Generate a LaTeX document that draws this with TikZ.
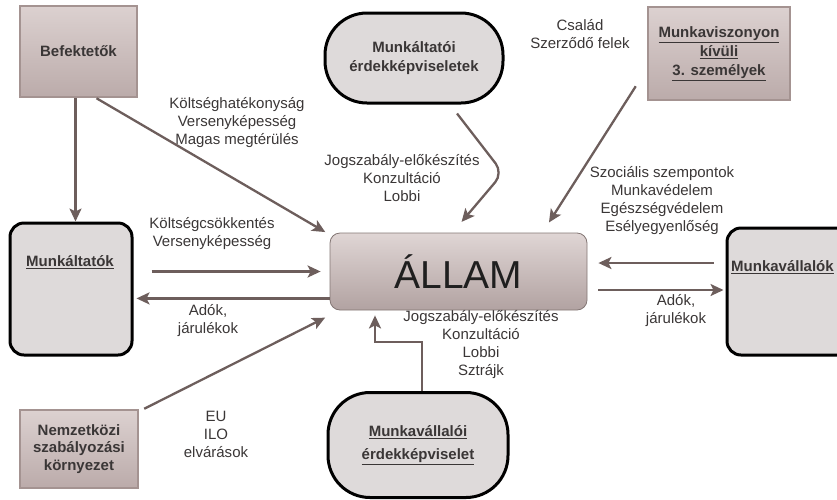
\documentclass[tikz,border=0pt]{standalone}
\usepackage{fontspec}
\setmainfont{Liberation Sans}
\usetikzlibrary{arrows.meta}

\definecolor{mauvebox}{HTML}{C9BBBA}
\definecolor{mauvetop}{HTML}{DCD1D0}
\definecolor{mauvebot}{HTML}{BBABAA}
\definecolor{mauveline}{HTML}{A49391}
\definecolor{greyfill}{HTML}{DEDADA}
\definecolor{arrowcol}{HTML}{6D5E5C}
\definecolor{txtcol}{HTML}{3A3636}

\begin{document}
\begin{tikzpicture}[
    x=1pt, y=-1pt,
    every node/.style={text=txtcol, font=\fontsize{15}{18}\selectfont},
    shadedbox/.style={rectangle, draw=mauveline, line width=2.5pt, top color=mauvetop, bottom color=mauvebot, align=center, font=\bfseries\fontsize{15}{19}\selectfont},
    roundbox/.style={rectangle, draw=black, line width=3pt, fill=greyfill, rounded corners=14pt},
    pillbox/.style={rectangle, draw=black, line width=3pt, fill=greyfill, rounded corners=42pt, align=center, font=\bfseries\fontsize{15}{19}\selectfont},
    statebox/.style={rectangle, draw=mauveline!80!black, line width=0.8pt, top color=mauvetop!90!white, bottom color=mauvebot!95!black, rounded corners=10pt, minimum width=257pt, minimum height=77pt, font=\fontsize{39}{40}\selectfont, text=black!88},
    lbl/.style={align=center, inner sep=0pt},
    arrow/.style={-{Stealth[length=13pt, width=12pt, inset=3pt]}, line width=2.3pt, draw=arrowcol}
]
\useasboundingbox (0,0) rectangle (837,499);
\clip (0,0) rectangle (837,499);

% outer actors
\node[shadedbox, minimum width=117pt, minimum height=91pt] (bef) at (78.5, 51.5) {Befektetők};
\node[pillbox, minimum width=178pt, minimum height=90pt] (mke) at (414, 58) {Munkáltatói\\érdekképviseletek};
\node[shadedbox, minimum width=142pt, minimum height=93pt] (mvk) at (719, 53.5) {\underline{Munkaviszonyon}\\\underline{kívüli}\\\underline{3. személyek}};
\node[shadedbox, minimum width=118pt, minimum height=78pt, font=\bfseries\fontsize{15}{17.5}\selectfont] (nsz) at (79, 449) {Nemzetközi\\szabályozási\\környezet};
\node[pillbox, minimum width=180pt, minimum height=105pt, font=\bfseries\fontsize{15}{23}\selectfont] (mve) at (418, 445) {\underline{Munkavállalói}\\\underline{érdekképviselet}};

% side boxes with text near the top
\node[roundbox, minimum width=122pt, minimum height=132pt] (mk) at (71, 289) {};
\node[font=\bfseries\fontsize{15}{18}\selectfont] (mktext) at (70, 262) {\underline{Munkáltatók}};
\node[roundbox, minimum width=124pt, minimum height=127pt] (mv) at (789, 291.5) {};
\node[anchor=west, inner sep=0pt, font=\bfseries\fontsize{15}{18}\selectfont] (mvtext) at (731, 267) {\underline{Munkavállalók}};

% the state
\node[statebox] (allam) at (458.5, 271.5) {ÁLLAM};

% labels
\node[lbl] (lbef) at (237, 123) {Költséghatékonyság\\Versenyképesség\\Magas megtérülés};
\node[lbl] (lmke) at (402, 178) {Jogszabály-előkészítés\\Konzultáció\\Lobbi};
\node[lbl] (lcsal) at (580, 34) {Család\\Szerződő felek};
\node[lbl] (lszoc) at (662, 201) {Szociális szempontok\\Munkavédelem\\Egészségvédelem\\Esélyegyenlőség};
\node[lbl] (lmk1) at (212, 234) {Költségcsökkentés\\Versenyképesség};
\node[lbl] (lmk2) at (208, 321) {Adók,\\járulékok};
\node[lbl] (lmv) at (676, 311) {Adók,\\járulékok};
\node[lbl] (lnsz) at (216, 434) {EU\\ILO\\elvárások};
\node[lbl] (lmve) at (481, 345) {Jogszabály-előkészítés\\Konzultáció\\Lobbi\\Sztrájk};

% arrows
\coordinate (bend) at (503, 173);
\draw[arrow] ([xshift=-3pt]bef.south) -- ([xshift=-3pt]bef.south |- mk.north);
\draw[arrow, shorten >=5pt] ([xshift=18pt]bef.south) -- ([shift={(0,2)}]allam.north west);
\draw[arrow, shorten <=18pt, shorten >=9pt] (allam.west -| mk.east) -- (allam.west);
\draw[arrow, shorten >=3pt] ([shift={(0,-12)}]allam.south west) -- ([shift={(0,-12)}]allam.south west -| mk.east);
\draw[arrow, shorten >=5pt] ([xshift=5pt]nsz.north east) -- ([shift={(0,5)}]allam.south west);
\draw[arrow, rounded corners=12pt, shorten >=14pt] ([shift={(43,9)}]mke.south) -- (bend) -- ([xshift=-6pt]allam.north);
\draw[arrow, shorten >=12pt] ([shift={(-11,-15)}]mvk.south west) -- ([xshift=84pt]allam.north);
\draw[arrow, shorten <=12pt, shorten >=11pt] ([shift={(0,-28.5)}]mv.west) -- ([shift={(0,-28.5)}]mv.west -| allam.east);
\draw[arrow, shorten <=11pt, shorten >=2pt] ([shift={(0,18.5)}]allam.east) -- ([shift={(0,18.5)}]allam.east -| mv.west);
\draw[arrow, shorten >=5pt] ([xshift=4pt]mve.north) -- ++(0,-49) -| ([xshift=-83.5pt]allam.south);

\end{tikzpicture}
\end{document}
